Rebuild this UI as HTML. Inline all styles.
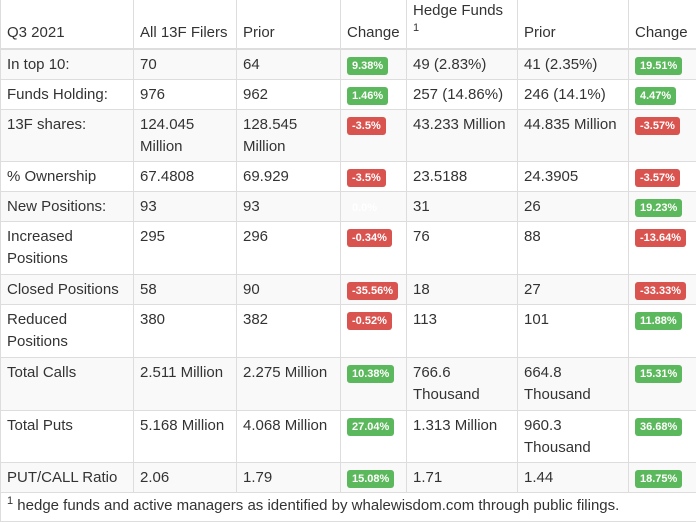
<!DOCTYPE html>
<html><head><meta charset="utf-8"><style>
html,body{margin:0;padding:0;background:#fff;width:696px;height:520px;overflow:hidden}
table{border-collapse:collapse;table-layout:fixed;font-family:"Liberation Sans",Arial,sans-serif;font-size:15px;color:#333;position:absolute;left:0;top:0;width:696px}
td{border:1px solid #ddd;padding:4px 5px 0 6px;vertical-align:top;line-height:22px;overflow:hidden;white-space:normal}
tr.h td{vertical-align:bottom;height:40px;padding-bottom:4px;border-bottom:2px solid #ddd;border-top:none}
tr.g td{background:#f9f9f9}
.b{display:inline-block;font-size:11px;font-weight:bold;color:#fff;line-height:18px;padding:0 5px;border-radius:3px;vertical-align:0px}
.gr{background:#5cb85c}.rd{background:#d9534f}.wh{background:transparent;color:#fff}
sup{font-size:11px;line-height:0}
td.f{padding:3px 6px 5px 6px;font-size:15px;line-height:20px}
</style></head><body>
<table>
<colgroup><col style="width:133px"><col style="width:103px"><col style="width:104px"><col style="width:66px"><col style="width:111px"><col style="width:111px"><col style="width:68px"></colgroup>
<tr class="h"><td>Q3 2021</td><td>All 13F Filers</td><td>Prior</td><td>Change</td><td style="vertical-align:top;padding-top:0">Hedge Funds<br><sup>1</sup></td><td>Prior</td><td>Change</td></tr>
<tr class="g" style="height:30px"><td>In top 10:</td><td>70</td><td>64</td><td><span class="b gr">9.38%</span></td><td>49 (2.83%)</td><td>41 (2.35%)</td><td><span class="b gr">19.51%</span></td></tr>
<tr style="height:30px"><td>Funds Holding:</td><td>976</td><td>962</td><td><span class="b gr">1.46%</span></td><td>257 (14.86%)</td><td>246 (14.1%)</td><td><span class="b gr">4.47%</span></td></tr>
<tr class="g" style="height:52px"><td>13F shares:</td><td>124.045 Million</td><td>128.545 Million</td><td><span class="b rd">-3.5%</span></td><td>43.233 Million</td><td>44.835 Million</td><td><span class="b rd">-3.57%</span></td></tr>
<tr style="height:30px"><td>% Ownership</td><td>67.4808</td><td>69.929</td><td><span class="b rd">-3.5%</span></td><td>23.5188</td><td>24.3905</td><td><span class="b rd">-3.57%</span></td></tr>
<tr class="g" style="height:30px"><td>New Positions:</td><td>93</td><td>93</td><td><span class="b wh">0.0%</span></td><td>31</td><td>26</td><td><span class="b gr">19.23%</span></td></tr>
<tr style="height:53px"><td>Increased Positions</td><td>295</td><td>296</td><td><span class="b rd">-0.34%</span></td><td>76</td><td>88</td><td><span class="b rd">-13.64%</span></td></tr>
<tr class="g" style="height:30px"><td>Closed Positions</td><td>58</td><td>90</td><td><span class="b rd">-35.56%</span></td><td>18</td><td>27</td><td><span class="b rd">-33.33%</span></td></tr>
<tr style="height:53px"><td>Reduced Positions</td><td>380</td><td>382</td><td><span class="b rd">-0.52%</span></td><td>113</td><td>101</td><td><span class="b gr">11.88%</span></td></tr>
<tr class="g" style="height:53px"><td>Total Calls</td><td>2.511 Million</td><td>2.275 Million</td><td><span class="b gr">10.38%</span></td><td>766.6 Thousand</td><td>664.8 Thousand</td><td><span class="b gr">15.31%</span></td></tr>
<tr style="height:52px"><td>Total Puts</td><td>5.168 Million</td><td>4.068 Million</td><td><span class="b gr">27.04%</span></td><td>1.313 Million</td><td>960.3 Thousand</td><td><span class="b gr">36.68%</span></td></tr>
<tr class="g" style="height:30px"><td>PUT/CALL Ratio</td><td>2.06</td><td>1.79</td><td><span class="b gr">15.08%</span></td><td>1.71</td><td>1.44</td><td><span class="b gr">18.75%</span></td></tr>
<tr><td class="f" colspan="7"><sup>1</sup> hedge funds and active managers as identified by whalewisdom.com through public filings.</td></tr>
</table>
</body></html>
